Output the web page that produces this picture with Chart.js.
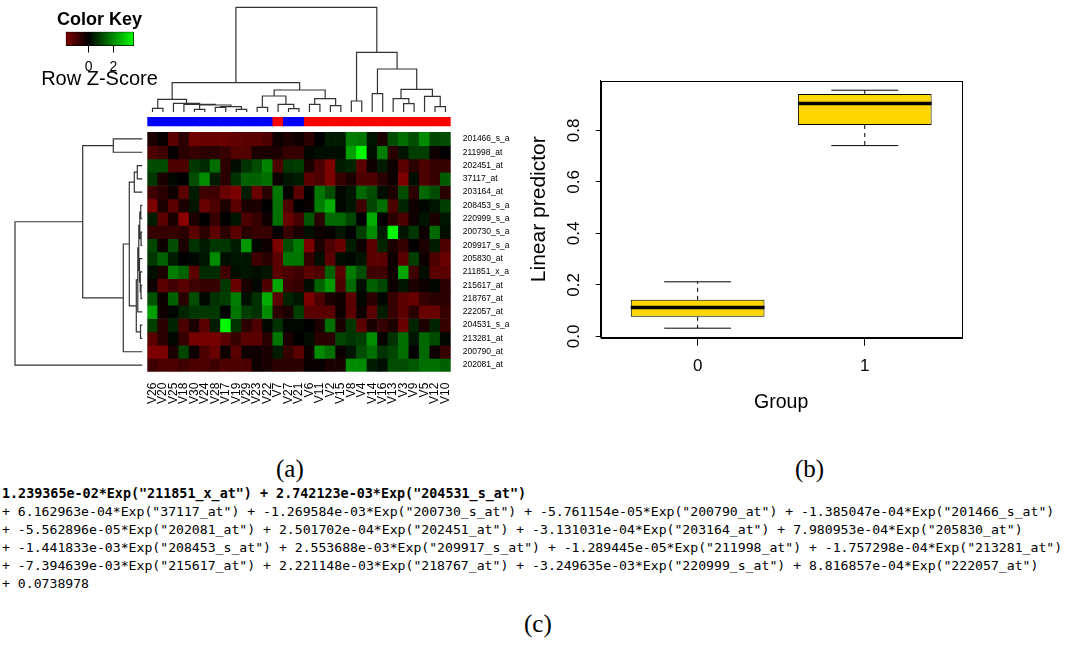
<!DOCTYPE html>
<html>
<head>
<meta charset="utf-8">
<script src="https://cdn.jsdelivr.net/npm/chart.js@4.4.1/dist/chart.umd.min.js"></script>
<style>
  html, body { margin: 0; padding: 0; background: #fff; }
  #page { position: relative; width: 1083px; height: 646px; overflow: hidden; background: #fff; }
  canvas { position: absolute; }
  .panel { position: absolute; font-family: "Liberation Serif", "Times New Roman", serif; font-size: 25px; line-height: 28px; color: #000; }
  #formula { position: absolute; left: 2px; top: 485px; font-family: "DejaVu Sans Mono", monospace; font-size: 13.15px; line-height: 17.9px; white-space: pre; color: #000; }
  #formula b { font-size: 13.4px; }
</style>
</head>
<body>
<div id="page">
  <canvas id="rowDendro" width="147" height="310" style="left:0px;top:110px"></canvas>
  <canvas id="colDendro" width="320" height="120" style="left:140px;top:0px"></canvas>
  <canvas id="heat" width="400" height="310" style="left:140px;top:110px"></canvas>
  <canvas id="key" width="159" height="95" style="left:20px;top:0px"></canvas>
  <canvas id="box" width="470" height="350" style="left:520px;top:70px"></canvas>
  <div class="panel" style="left:276px;top:455px">(a)</div>
  <div class="panel" style="left:795px;top:455px">(b)</div>
  <div class="panel" style="left:524px;top:610px">(c)</div>
  <div id="formula"></div>
</div>
<script>
// ---- data ----
const colLabels = ['V26','V20','V25','V18','V30','V24','V28','V17','V19','V29','V23','V22','V7','V27','V21',
                   'V6','V11','V2','V15','V8','V4','V14','V16','V13','V3','V9','V5','V12','V10'];
const colGroup = [0,0,0,0,0,0,0,0,0,0,0,0,1,0,0,1,1,1,1,1,1,1,1,1,1,1,1,1,1];
const rowLabels = ['201466_s_a','211998_at','202451_at','37117_at','203164_at','208453_s_a','220999_s_a',
                   '200730_s_a','209917_s_a','205830_at','211851_x_a','215617_at','218767_at','222057_at',
                   '204531_s_a','213281_at','200790_at','202081_at'];
const zScores = [
  [-0.4,-0.1,-1.3,-0.6,-1.6,-1.5,-1.5,-1.5,-1.4,-1.3,-1.3,-1.1,-0.2,-0.4,-0.2,-0.6,0,0.4,0.4,1.8,1.7,0.3,-0.4,1.1,1.6,1.1,2.0,1.0,1.1],
  [-1.1,-0.9,-0.1,-0.6,-0.8,-0.6,-0.6,-0.8,-1.2,-1.2,-0.4,-0.4,-0.4,-0.8,-0.8,0.1,0.2,0.2,0.2,2.3,3.6,0.2,1.8,-0.6,0.3,0.9,0.9,-0.2,0],
  [1.1,1.1,-1.1,-1.1,0.8,0.6,1.6,-0.6,0.2,0.7,1.1,1.9,-1.1,0.8,0.9,-0.4,-1.1,-1.8,0.4,0.5,-1.3,-0.2,0.4,-0.2,-1.3,-0.6,-1.1,-0.8,-0.8],
  [0.8,-0.4,0.1,0,1.1,2.0,0.4,-0.6,0.7,1.4,1.4,1.6,-0.2,0.3,0.4,-1.3,-1.1,-1.8,-0.8,-0.4,-1.1,-1.1,-0.6,-0.2,-1.8,0.2,-1.1,-0.8,1.3],
  [-0.9,-0.6,-0.2,-1.3,0.4,-0.9,-0.9,-1.5,-1.8,0.4,-1.5,-0.6,1.7,0,-1.3,0,1.7,1.1,0.1,0.3,1.5,1.1,0.2,-0.4,1.1,-0.6,1.5,1.1,-0.6],
  [-1.8,-0.4,-1.3,-0.4,0.3,-1.5,-1.1,-0.4,-1.3,-0.4,-0.4,0,1.6,-1.1,0,-0.1,1.8,2.5,0.1,0.3,-0.9,1.0,1.6,-1.1,0.5,-0.2,0.1,0.3,0.9],
  [0.4,-1.3,-0.4,-2.0,-0.4,0,-0.8,0,0.3,-1.1,-0.8,-0.2,1.6,-1.5,-1.0,1.2,-0.6,1.5,1.5,1.0,0,2.5,0,-0.6,-1.1,-0.2,0.3,-0.4,0.3],
  [-0.8,-0.8,-0.8,-0.6,-1.3,-0.6,-1.3,-0.6,-1.3,-0.6,-0.8,-0.8,0,-0.8,-0.4,0.2,-0.2,-0.1,0.3,0,0.9,2.0,0.4,3.6,0.3,0.8,-0.2,1.5,0.2],
  [1.0,-0.2,1.1,-0.4,0.7,0.4,0.8,0.8,0.4,2.2,0.1,-0.2,-1.8,1.1,1.8,-1.8,-0.4,-1.1,-1.5,0.4,-0.2,-1.3,0.5,-0.4,-0.8,0,-0.4,0.4,-1.1],
  [0.8,1.4,0.4,0,0.1,0.3,2.0,0.2,0.3,0.3,-0.9,-0.6,-1.3,1.7,1.7,-0.8,0.2,-1.3,0.2,0.1,0.3,-1.3,-1.3,-0.2,-1.3,0.9,-0.2,-1.1,-1.5],
  [0.2,-0.4,1.8,1.4,-1.3,0.6,0.6,-0.9,0.2,0.3,0.2,0.3,-1.3,-1.1,-0.9,-1.3,-1.1,1.4,-1.3,1.8,1.1,-0.9,-0.9,-0.2,2.4,-0.9,0.2,-1.3,-1.3],
  [-0.2,-1.3,-0.9,-1.3,-0.9,-0.8,-0.8,0.8,-1.5,-0.4,0.1,-1.1,2.4,-0.9,-0.8,0.2,1.4,2.2,-1.1,1.5,0.2,1.4,1.0,-0.2,0.3,-0.4,-0.2,0.1,-0.6],
  [1.2,-0.2,1.4,-0.6,1.1,0.1,0.7,0.9,1.8,0.2,0.7,2.5,-1.3,0.5,0.3,-1.8,-1.1,-0.4,-0.2,-1.3,0.1,-0.6,0.1,-0.8,-1.3,-1.5,-0.8,-0.6,-0.6],
  [2.3,-0.2,0.1,0.5,0.8,0.8,0.8,0,1.7,0.9,0.7,2.0,-0.6,-0.4,0.9,-1.3,-1.3,-1.3,-0.2,-1.3,-0.2,-1.3,0.4,-0.8,-1.3,-0.6,-1.5,-1.5,-0.8],
  [0.9,-0.6,0.5,-1.1,-0.4,-1.3,0.4,3.6,0.7,-0.6,-1.1,0.1,0.7,0.1,0.1,0,-0.4,1.6,-0.4,0.8,-1.3,-0.4,-0.8,-0.4,-1.5,0.5,-0.4,0.5,-0.8],
  [-1.3,-0.6,0.1,-0.8,-1.7,-1.7,-1.7,-1.3,-0.8,-1.3,-1.3,-0.6,1.7,-0.4,0,0.2,-0.6,-0.6,1.0,0.8,0.9,2.0,-0.1,0.7,1.6,0.3,1.5,1.1,0.1],
  [-1.8,-1.8,-0.4,1.0,-0.2,-1.1,-1.5,-0.2,-1.3,-0.2,-0.2,-0.4,0.4,-0.8,-1.3,-0.2,2.0,1.6,-0.2,0.3,1.1,1.6,0.7,1.0,1.6,0,1.5,-0.2,-0.8],
  [-0.9,-1.1,-1.1,-0.9,-1.1,-1.1,-0.9,-1.1,-1.1,-1.1,-0.2,-0.4,-0.6,-0.6,-0.6,-0.1,-0.1,-0.4,-0.4,2.0,2.0,0.4,0.2,1.1,1.1,1.3,1.6,1.6,1.4]
];
// hclust-style merges: negative = leaf (1-based, display order), positive = earlier merge
const colMerges = [
  [-1,-2,3.7],[-5,-6,2.7],[-7,-8,4.7],[-9,-10,2.7],[3,4,5.3],[2,5,7],[-4,6,7.7],[-3,7,8.7],[1,8,12.7],
  [-11,-12,4.7],[-14,-15,3.3],[-13,11,7.7],[10,12,16],[-16,-17,7.7],[-18,-19,6.3],[14,15,13.3],[13,16,22],
  [9,17,29.3],[-20,-21,11],[-22,-23,18.3],[-25,-26,8.3],[-24,21,13.3],[-28,-29,5.3],[-27,23,15.7],
  [22,24,22.7],[20,25,43],[19,26,59.7],[18,27,104.7]
];
const rowMerges = [
  [-1,-2,29],[-3,-4,5],[2,-5,8],[-6,-7,1.5],[-8,-9,1.2],[4,5,2.5],[-12,-13,1.3],[-11,7,2],[-10,8,2.8],
  [6,9,3.5],[10,-14,4.5],[-15,-16,1.8],[11,12,6],[3,13,13],[14,-17,19],[1,15,59.6],[16,-18,127.3]
];
const keyRange = [-1.87, 3.68];
const keyTicks = [0, 2];
const Z_LIM = 3.68;

const groups = [0, 1];
const whiskerLow = [0.032, 0.741];
const q1 = [0.076, 0.821];
const median = [0.112, 0.904];
const q3 = [0.142, 0.941];
const whiskerHigh = [0.212, 0.956];
const boxYTicks = [0, 0.2, 0.4, 0.6, 0.8];

const formulaLines = [
  '1.239365e-02*Exp("211851_x_at") + 2.742123e-03*Exp("204531_s_at")',
  '+ 6.162963e-04*Exp("37117_at") + -1.269584e-03*Exp("200730_s_at") + -5.761154e-05*Exp("200790_at") + -1.385047e-04*Exp("201466_s_at")',
  '+ -5.562896e-05*Exp("202081_at") + 2.501702e-04*Exp("202451_at") + -3.131031e-04*Exp("203164_at") + 7.980953e-04*Exp("205830_at")',
  '+ -1.441833e-03*Exp("208453_s_at") + 2.553688e-03*Exp("209917_s_at") + -1.289445e-05*Exp("211998_at") + -1.757298e-04*Exp("213281_at")',
  '+ -7.394639e-03*Exp("215617_at") + 2.221148e-03*Exp("218767_at") + -3.249635e-03*Exp("220999_s_at") + 8.816857e-04*Exp("222057_at")',
  '+ 0.0738978'
];

// ---- helpers ----
Chart.defaults.font.family = '"Liberation Sans", Arial, sans-serif';
Chart.defaults.color = '#000';
Chart.defaults.animation = false;
Chart.defaults.responsive = false;
Chart.defaults.devicePixelRatio = 1;
Chart.defaults.plugins.legend.display = false;
Chart.defaults.plugins.tooltip.enabled = false;

const BAR_TOP = -1.15, BAR_BOTTOM = -0.47;   // group colour strip, in row units
const LINE = '#333';

function zColor(z) {
  const v = Math.round(255 * Math.min(1, Math.abs(z) / Z_LIM));
  return z < 0 ? `rgb(${v},0,0)` : `rgb(0,${v},0)`;
}
const fixW = w => a => { a.width = w; a.paddingTop = 0; a.paddingBottom = 0; };
const fixH = h => a => { a.height = h; a.paddingLeft = 0; a.paddingRight = 0; };
const setTicks = vals => a => { a.ticks = vals.map(v => ({value: v})); };
const blankAxis = extra => ({display: true, grid: {display: false, drawTicks: false}, border: {display: false},
  ticks: {display: false}, ...extra});

function dendroSegments(merges) {
  const pos = [], ht = [], segs = [];
  const node = k => k < 0 ? {p: -k - 1, h: 0} : {p: pos[k - 1], h: ht[k - 1]};
  merges.forEach(([a, b, h], i) => {
    const A = node(a), B = node(b);
    pos[i] = (A.p + B.p) / 2;
    ht[i] = h;
    segs.push([A.p, A.h], [A.p, h], [B.p, h], [B.p, B.h], null);
  });
  return segs;
}
const hidden = {display: false};
const lineSet = data => ({data, showLine: true, spanGaps: false, pointRadius: 0,
  borderColor: LINE, borderWidth: 1.2, clip: false});

// ---- column dendrogram ----
const colSegs = dendroSegments(colMerges);
new Chart(document.getElementById('colDendro'), {
  type: 'scatter',
  data: {datasets: [lineSet(colSegs.map(s => s ? {x: s[0], y: s[1]} : {x: NaN, y: NaN}))]},
  options: {
    layout: {padding: {left: 7.3, right: 9.3, top: 7.3, bottom: 8}},
    scales: {
      x: {...hidden, min: -0.5, max: colLabels.length - 0.5},
      y: {...hidden, min: 0, max: colMerges[colMerges.length - 1][2]}
    }
  }
});

// ---- row dendrogram ----
const rowSegs = dendroSegments(rowMerges);
new Chart(document.getElementById('rowDendro'), {
  type: 'scatter',
  data: {datasets: [lineSet(rowSegs.map(s => s ? {x: s[1], y: s[0] + 0.5} : {x: NaN, y: NaN}))]},
  options: {
    layout: {padding: {left: 15, right: 4.7, top: 7, bottom: 48.3}},
    scales: {
      x: {...hidden, min: 0, max: rowMerges[rowMerges.length - 1][2], reverse: true},
      y: {...hidden, min: BAR_TOP, max: rowLabels.length, reverse: true}
    }
  }
});

// ---- heatmap ----
const heatSets = rowLabels.map((name, r) => ({
  label: name,
  data: colLabels.map(() => [r, r + 1]),
  backgroundColor: zScores[r].map(zColor)
}));
heatSets.push({
  label: 'group',
  data: colLabels.map(() => [BAR_TOP, BAR_BOTTOM]),
  backgroundColor: colGroup.map(g => g ? '#ff0000' : '#0000ff')
});
new Chart(document.getElementById('heat'), {
  type: 'bar',
  data: {labels: colLabels, datasets: heatSets},
  options: {
    datasets: {bar: {barPercentage: 1, categoryPercentage: 1, grouped: false, borderWidth: 0}},
    layout: {padding: {left: 7.3, right: 19.3, top: 7, bottom: 8.3}},
    scales: {
      x: {
        grid: {display: false, drawTicks: false}, border: {display: false},
        ticks: {autoSkip: false, minRotation: 90, maxRotation: 90, font: {size: 12}, padding: 11},
        afterFit: fixH(40)
      },
      y: {display: false, min: BAR_TOP, max: rowLabels.length, reverse: true},
      yR: {
        position: 'right', min: BAR_TOP, max: rowLabels.length, reverse: true,
        grid: {display: false, drawTicks: false}, border: {display: false},
        afterBuildTicks: setTicks(rowLabels.map((_, i) => i + 0.5)),
        ticks: {font: {size: 8.5}, padding: 12, callback: v => rowLabels[Math.floor(v)]},
        afterFit: fixW(70)
      }
    }
  }
});

// ---- colour key ----
function keyGradient(ctx) {
  const chart = ctx.chart;
  if (!chart.chartArea) return '#000';
  const xs = chart.scales.x;
  const g = chart.ctx.createLinearGradient(xs.getPixelForValue(-Z_LIM), 0, xs.getPixelForValue(Z_LIM), 0);
  g.addColorStop(0, '#ff0000');
  g.addColorStop(0.5, '#000000');
  g.addColorStop(1, '#00ff00');
  return g;
}
new Chart(document.getElementById('key'), {
  type: 'bar',
  data: {labels: [''], datasets: [{data: [keyRange], backgroundColor: keyGradient, borderColor: '#000',
    borderWidth: 1, borderSkipped: false, barPercentage: 1, categoryPercentage: 1}]},
  options: {
    indexAxis: 'y',
    layout: {padding: 0},
    plugins: {
      title: {display: true, text: 'Color Key', font: {size: 18, weight: 'bold'}, padding: {top: 9.5, bottom: 0.6}},
      subtitle: {display: true, position: 'bottom', text: 'Row Z-Score', font: {size: 20}, color: '#000',
                 padding: {top: -5, bottom: 4}}
    },
    scales: {
      x: {
        min: keyRange[0], max: keyRange[1],
        afterBuildTicks: setTicks(keyTicks),
        grid: {drawOnChartArea: false, tickLength: 6.5, color: '#000'}, border: {display: false},
        ticks: {font: {size: 14}, padding: 5.8},
        afterFit: fixH(26)
      },
      y: blankAxis({afterFit: fixW(45.7)}),
      y2: blankAxis({position: 'right', type: 'linear', min: 0, max: 1, afterFit: fixW(45)})
    }
  }
});

// ---- boxplot ----
const BOX_W = 0.8, CAP_W = 0.4;
const whiskers = [], caps = [], medians = [];
groups.forEach((g, i) => {
  const gap = {x: NaN, y: NaN};
  whiskers.push({x: g, y: q3[i]}, {x: g, y: whiskerHigh[i]}, gap, {x: g, y: q1[i]}, {x: g, y: whiskerLow[i]}, gap);
  caps.push({x: g - CAP_W / 2, y: whiskerHigh[i]}, {x: g + CAP_W / 2, y: whiskerHigh[i]}, gap,
            {x: g - CAP_W / 2, y: whiskerLow[i]}, {x: g + CAP_W / 2, y: whiskerLow[i]}, gap);
  medians.push({x: g - BOX_W / 2, y: median[i]}, {x: g + BOX_W / 2, y: median[i]}, gap);
});
const frame = {
  id: 'frame',
  afterDraw(chart) {
    const {ctx, chartArea: a} = chart;
    ctx.save();
    ctx.strokeStyle = '#000';
    ctx.lineWidth = 1;
    ctx.strokeRect(Math.round(a.left) + 0.5, Math.round(a.top) + 0.5,
      Math.round(a.right - a.left), Math.round(a.bottom - a.top));
    ctx.restore();
  }
};
new Chart(document.getElementById('box'), {
  type: 'bar',
  data: {datasets: [
    {type: 'bar', data: groups.map((g, i) => ({x: g, y: [q1[i], q3[i]]})), backgroundColor: '#ffd700',
     borderColor: '#000', borderWidth: 1, borderSkipped: false, barPercentage: BOX_W, categoryPercentage: 1, order: 3},
    {type: 'line', data: whiskers, borderColor: '#000', borderWidth: 1, borderDash: [4, 4], pointRadius: 0, spanGaps: false, order: 2},
    {type: 'line', data: caps, borderColor: '#000', borderWidth: 1, pointRadius: 0, spanGaps: false, order: 2},
    {type: 'line', data: medians, borderColor: '#000', borderWidth: 3.5, borderCapStyle: 'butt', pointRadius: 0, spanGaps: false, order: 1}
  ]},
  options: {
    layout: {padding: {left: 0, right: 28.3, top: 10.7, bottom: 0}},
    scales: {
      x: {
        type: 'linear', min: -0.58, max: 1.58, offset: false,
        afterBuildTicks: setTicks(groups),
        grid: {drawOnChartArea: false, offset: false, tickLength: 8, color: '#000'}, border: {color: '#000'},
        ticks: {font: {size: 17}, padding: 10.6, callback: v => String(v)},
        title: {display: true, text: 'Group', font: {size: 19.5}, padding: {top: 0, bottom: 6}},
        afterFit: fixH(82.3)
      },
      y: {
        min: -0.005, max: 0.993,
        afterBuildTicks: setTicks(boxYTicks),
        grid: {drawOnChartArea: false, tickLength: 5, color: '#000'}, border: {color: '#000'},
        ticks: {font: {size: 17}, minRotation: 90, maxRotation: 90, crossAlign: 'center', padding: 9.9,
                callback: v => v.toFixed(1)},
        title: {display: true, text: 'Linear predictor', font: {size: 21}, padding: {top: 7, bottom: 0}},
        afterFit: fixW(80.7)
      }
    }
  },
  plugins: [frame]
});

// ---- formula text ----
const f = document.getElementById('formula');
formulaLines.forEach((t, i) => {
  const el = document.createElement(i === 0 ? 'b' : 'span');
  el.textContent = t;
  f.appendChild(el);
  f.appendChild(document.createTextNode('\n'));
});
</script>
</body>
</html>
